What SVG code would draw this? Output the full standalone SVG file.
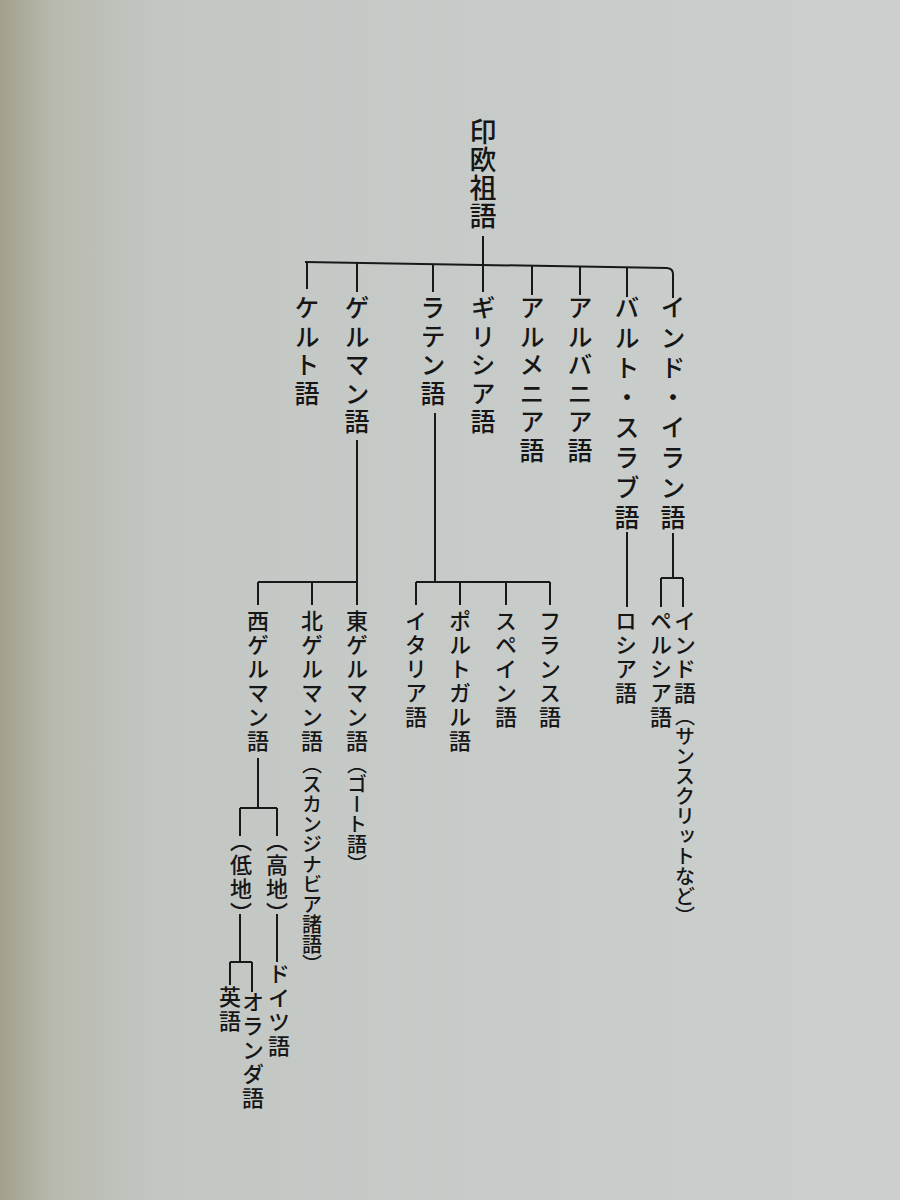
<svg xmlns="http://www.w3.org/2000/svg" width="900" height="1200" viewBox="0 0 900 1200">
<defs>
<linearGradient id="paper" x1="0" y1="0" x2="1" y2="0">
<stop offset="0" stop-color="#a2a08b"/>
<stop offset="0.06" stop-color="#b8baae"/>
<stop offset="0.18" stop-color="#c3c7c4"/>
<stop offset="1" stop-color="#cbd0ce"/>
</linearGradient>
<style>
text{font-family:"Noto Sans CJK JP","Noto Sans CJK SC",sans-serif;font-weight:500;fill:#161616;writing-mode:vertical-rl;}
.root{font-size:27px;letter-spacing:1px;}
.l1{font-size:25px;letter-spacing:3.5px;}
.wide{letter-spacing:5px;}
.l2{font-size:22px;letter-spacing:2px;}
.note{font-size:20px;letter-spacing:0px;}
.c{fill:none;stroke:#181818;stroke-width:2;}
</style>
</defs>
<rect width="900" height="1200" fill="url(#paper)"/>
<g id="connectors" class="c">
<path d="M483 236 V264.9"/>
<path d="M305 262 L667 268 Q673 268.5 673 274 V298"/>
<path d="M307 262.1 V289"/>
<path d="M357 262.8 V292"/>
<path d="M433 264.1 V292"/>
<path d="M483 264.9 V292"/>
<path d="M532 265.7 V295"/>
<path d="M580 266.5 V295"/>
<path d="M627 267.3 V297"/>
<path d="M357 440 V605"/>
<path d="M258 582 H357"/>
<path d="M258 582 V605"/>
<path d="M312 582 V605"/>
<path d="M435 413 V582"/>
<path d="M416 582 H550"/>
<path d="M416 582 V605"/>
<path d="M460 582 V605"/>
<path d="M506 582 V605"/>
<path d="M550 582 V605"/>
<path d="M627 532 V607"/>
<path d="M673 533 V578"/>
<path d="M661 578 H683"/>
<path d="M661 578 V607"/>
<path d="M683 578 V607"/>
<path d="M258 758 V808"/>
<path d="M240 808 H277"/>
<path d="M240 808 V836"/>
<path d="M277 808 V836"/>
<path d="M240 914 V962"/>
<path d="M230 962 H252"/>
<path d="M230 962 V985"/>
<path d="M252 962 V992"/>
<path d="M277 914 V962"/>
</g>
<g id="n-root"><text class="root" x="483" y="118">印欧祖語</text></g>
<g id="n-celtic"><text class="l1" x="307" y="295">ケルト語</text></g>
<g id="n-germanic"><text class="l1" x="357" y="295">ゲルマン語</text></g>
<g id="n-latin"><text class="l1" x="433" y="295">ラテン語</text></g>
<g id="n-greek"><text class="l1" x="483" y="295">ギリシア語</text></g>
<g id="n-armenian"><text class="l1" x="532" y="295">アルメニア語</text></g>
<g id="n-albanian"><text class="l1" x="580" y="295">アルバニア語</text></g>
<g id="n-baltoslavic"><text class="l1 wide" x="627" y="295">バルト・スラブ語</text></g>
<g id="n-indoiranian"><text class="l1 wide" x="673" y="295">インド・イラン語</text></g>
<g id="n-westgermanic"><text class="l2" x="258" y="610">西ゲルマン語</text></g>
<g id="n-northgermanic"><text class="l2" x="312" y="610">北ゲルマン語<tspan class="note">（スカンジナビア諸語）</tspan></text></g>
<g id="n-eastgermanic"><text class="l2" x="357" y="610">東ゲルマン語<tspan class="note">（ゴート語）</tspan></text></g>
<g id="n-italian"><text class="l2" x="416" y="610">イタリア語</text></g>
<g id="n-portuguese"><text class="l2" x="460" y="610">ポルトガル語</text></g>
<g id="n-spanish"><text class="l2" x="506" y="610">スペイン語</text></g>
<g id="n-french"><text class="l2" x="550" y="610">フランス語</text></g>
<g id="n-russian"><text class="l2" x="626" y="610">ロシア語</text></g>
<g id="n-persian"><text class="l2" x="661" y="610">ペルシア語</text></g>
<g id="n-indic"><text class="l2" x="685" y="610">インド語<tspan class="note">（サンスクリットなど）</tspan></text></g>
<g id="n-lowgerman"><text class="l2" x="241" y="830">（低地）</text></g>
<g id="n-highgerman"><text class="l2" x="277" y="830">（高地）</text></g>
<g id="n-german"><text class="l2" x="279" y="963">ドイツ語</text></g>
<g id="n-english"><text class="l2" x="230" y="986">英語</text></g>
<g id="n-dutch"><text class="l2" x="253" y="991">オランダ語</text></g>
</svg>
